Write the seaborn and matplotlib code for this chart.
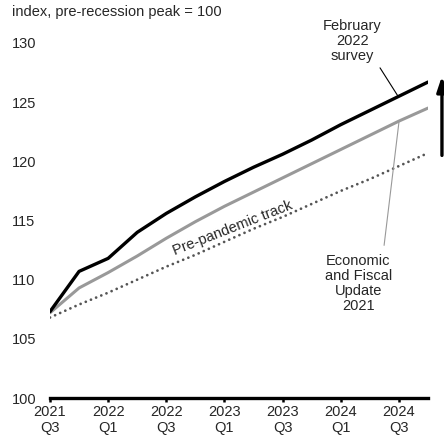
import numpy as np
import pandas as pd
import matplotlib
matplotlib.use("Agg")
import matplotlib.pyplot as plt
import seaborn as sns

# Quarters 2021Q3 .. 2024Q4
quarters = ["2021Q3", "2021Q4", "2022Q1", "2022Q2", "2022Q3", "2022Q4", "2023Q1",
            "2023Q2", "2023Q3", "2023Q4", "2024Q1", "2024Q2", "2024Q3", "2024Q4"]
tick_labels = ["2021\nQ3", "2022\nQ1", "2022\nQ3", "2023\nQ1", "2023\nQ3", "2024\nQ1", "2024\nQ3"]

feb_survey = [107.3, 110.7, 111.8, 114.0, 115.6, 117.0, 118.3, 119.5, 120.6,
              121.8, 123.1, 124.3, 125.5, 126.7]
efu_2021 = [107.2, 109.3, 110.6, 112.0, 113.5, 114.9, 116.2, 117.4, 118.6,
            119.8, 121.0, 122.2, 123.4, 124.5]
pre_pandemic = [106.8, 107.9, 108.9, 110.0, 111.1, 112.1, 113.2, 114.3, 115.3,
                116.4, 117.5, 118.5, 119.6, 120.7]

df = pd.DataFrame({"q": np.arange(len(quarters)), "feb": feb_survey,
                   "efu": efu_2021, "pre": pre_pandemic})

sns.set_style("white")
plt.rcParams["font.family"] = ["Liberation Sans", "DejaVu Sans"]
FS = 10.5

fig = plt.figure(figsize=(4.44, 4.42), dpi=100)
ax = fig.add_axes([50 / 444, 1 - 398 / 442, 378 / 444, 355 / 442])

sns.lineplot(data=df, x="q", y="pre", ax=ax, color="#555555", linewidth=2.0,
             linestyle=(0, (0.01, 2.0)), dash_capstyle="round")
sns.lineplot(data=df, x="q", y="efu", ax=ax, color="#999999", linewidth=2.2)
sns.lineplot(data=df, x="q", y="feb", ax=ax, color="black", linewidth=2.4)

ax.set_xlim(0, 13)
ax.set_ylim(100, 130)
ax.set_xticks(np.arange(0, 14, 2))
ax.set_xticklabels(tick_labels, fontsize=FS)
ax.set_yticks(np.arange(100, 131, 5))
ax.set_yticklabels([str(v) for v in range(100, 131, 5)], fontsize=FS)
ax.set_xlabel("")
ax.set_ylabel("")
for s in ["top", "right", "left"]:
    ax.spines[s].set_visible(False)
ax.spines["bottom"].set_linewidth(2.4)
ax.spines["bottom"].set_color("black")
ax.tick_params(axis="x", length=3, width=1.8, color="black", pad=2, bottom=True)
ax.tick_params(axis="y", length=0, pad=27.4)
for lab in ax.get_yticklabels():
    lab.set_horizontalalignment("left")

fig.text(12 / 444, 1 - 12 / 442, "index, pre-recession peak = 100", fontsize=FS,
         va="center", ha="left")

# annotations
ax.text(10.39, 130.2, "February\n2022\nsurvey", ha="center", va="center",
        fontsize=FS, linespacing=1.1, clip_on=False)
ax.plot([11.35, 11.97], [127.9, 125.5], color="black", linewidth=0.8, clip_on=False)

ax.text(10.6, 109.7, "Economic\nand Fiscal\nUpdate\n2021", ha="center", va="center",
        fontsize=FS, linespacing=1.1)
ax.plot([11.49, 12.0], [112.9, 123.3], color="#999999", linewidth=0.8)

ax.text(6.33, 114.05, "Pre-pandemic track", rotation=21.5, ha="center", va="baseline",
        fontsize=FS, rotation_mode="anchor")

ax.annotate("", xy=(13.48, 127.2), xytext=(13.48, 120.5),
            arrowprops=dict(arrowstyle="-|>,head_length=0.9,head_width=0.3",
                            color="black", linewidth=2.4, shrinkA=0, shrinkB=0),
            annotation_clip=False)

fig.savefig("out.png", dpi=100)
